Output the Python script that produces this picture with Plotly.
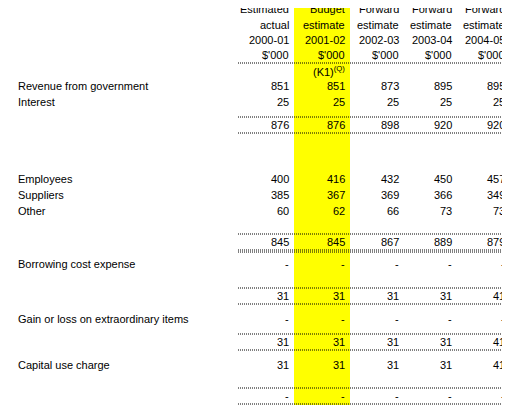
import plotly.graph_objects as go

columns = [["Estimated", "actual", "2000-01", "$'000"],
           ["Budget", "estimate", "2001-02", "$'000"],
           ["Forward", "estimate", "2002-03", "$'000"],
           ["Forward", "estimate", "2003-04", "$'000"],
           ["Forward", "estimate", "2004-05", "$'000"]]

row_labels = ["Revenues from ordinary activities", "Revenue from government", "Interest",
              "Total revenues from ordinary activities",
              "Expenses from ordinary activities", "(excluding borrowing cost expense)",
              "Employees", "Suppliers", "Other",
              "Total expenses from ordinary activities", "(excluding borrowing cost expense)",
              "Borrowing cost expense", "Net surplus or deficit from", "ordinary activities",
              "Gain or loss on extraordinary items", "Net surplus or deficit",
              "Capital use charge", "Net surplus or deficit after", "capital use charge"]
row_bold = [1, 0, 0, 1, 1, 1, 0, 0, 0, 1, 1, 0, 1, 1, 0, 1, 0, 1, 1]
row_y = [71, 86, 102, 125, 148, 164, 179, 195, 211, 226, 242, 264, 280, 296, 319, 342, 365, 381, 396]

col_2000 = ["", "851", "25", "876", "", "", "400", "385", "60", "", "845", "-", "", "31", "-", "31", "31", "", "-"]
col_2001 = ["(K1)<sup>(Q)</sup>", "851", "25", "876", "", "", "416", "367", "62", "", "845", "-", "", "31", "-", "31", "31", "", "-"]
col_2002 = ["", "873", "25", "898", "", "", "432", "369", "66", "", "867", "-", "", "31", "-", "31", "31", "", "-"]
col_2003 = ["", "895", "25", "920", "", "", "450", "366", "73", "", "889", "-", "", "31", "-", "31", "31", "", "-"]
col_2004 = ["", "895", "25", "920", "", "", "457", "349", "73", "", "879", "-", "", "41", "-", "41", "41", "", "-"]
values = [col_2000, col_2001, col_2002, col_2003, col_2004]

col_right = [291, 347, 401, 454, 507]
header_y = [9, 25, 40, 55]
rule_y = [63, 117, 133, 234, 250, 252, 288, 304, 334, 350, 388, 404]

FONT = "Liberation Sans"
OFF = 8  # page body margin compensation
fig = go.Figure()
shapes = [dict(type="rect", x0=294, x1=350, y0=OFF, y1=413, fillcolor="#ffff00", line_width=0, layer="below")]
for y in rule_y:
    shapes.append(dict(type="line", x0=238, x1=510, y0=y, y1=y,
                       line=dict(color="black", width=1, dash="1px,1px")))

ann = []
for c, hdr in enumerate(columns):
    for t, y in zip(hdr, header_y):
        ann.append(dict(x=col_right[c], y=y, text=t, xanchor="right", yanchor="middle", showarrow=False,
                        font=dict(family=FONT, size=11, color="black")))
for lab, b, y in zip(row_labels, row_bold, row_y):
    ann.append(dict(x=3 if b else 16, y=y, text=f"<b>{lab}</b>" if b else lab, xanchor="left", yanchor="middle",
                    showarrow=False, font=dict(family=FONT, size=11.5 if b else 11, color="black")))
for c, col in enumerate(values):
    for v, y in zip(col, row_y):
        if v:
            ann.append(dict(x=col_right[c], y=y, text=v, xanchor="right", yanchor="middle", showarrow=False,
                            font=dict(family=FONT, size=11, color="black")))

fig.update_layout(width=510, height=405, margin=dict(l=0, r=0, t=0, b=0),
                  plot_bgcolor="white", paper_bgcolor="white", shapes=shapes, annotations=ann,
                  xaxis=dict(range=[OFF, 510 + OFF], visible=False, fixedrange=True),
                  yaxis=dict(range=[405 + OFF, OFF], visible=False, fixedrange=True))
fig.write_html("out.html")
